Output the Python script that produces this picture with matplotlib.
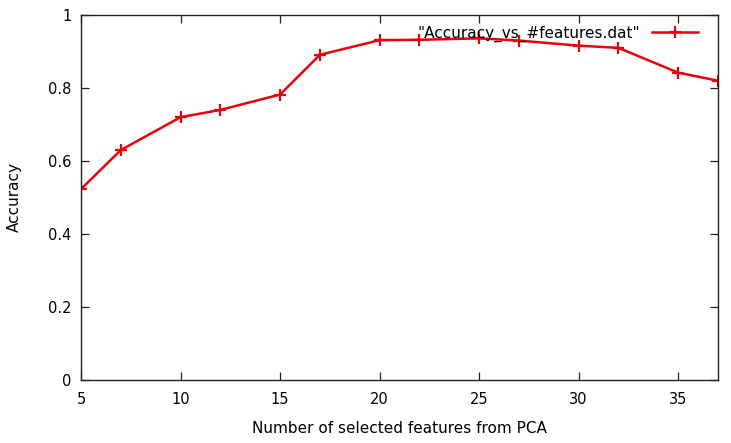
import matplotlib; matplotlib.use("Agg")
import matplotlib.pyplot as plt

# number of PCA features vs accuracy
n_features = [5, 7, 10, 12, 15, 17, 20, 22, 25, 27, 30, 32, 35, 37]
accuracy = [0.523, 0.630, 0.720, 0.740, 0.782, 0.891, 0.931, 0.932, 0.936, 0.930, 0.916, 0.910, 0.842, 0.820]
xticks = [5, 10, 15, 20, 25, 30, 35]
yticks = [0, 0.2, 0.4, 0.6, 0.8, 1]
ytick_labels = ["0", "0.2", "0.4", "0.6", "0.8", "1"]

plt.rcParams["font.family"] = "DejaVu Sans"
fig = plt.figure(figsize=(7.31, 4.43), dpi=100)
ax = fig.add_axes([81/731, 63/443, 637/731, 365/443])

ax.plot(n_features, accuracy, color="#e8000b", lw=1.8, marker="+", ms=9, mew=1.6,
        label='"Accuracy_vs_#features.dat"')

ax.set_xlim(5, 37)
ax.set_ylim(0, 1)
ax.set_xticks(xticks)
ax.set_yticks(yticks)
ax.set_yticklabels(ytick_labels)
ax.tick_params(direction="in", length=6, width=0.9, top=True, right=True,
               labelsize=10.5, pad=7, colors="#222222", labelcolor="black")
ax.tick_params(axis="x", pad=9)
for s in ax.spines.values():
    s.set_linewidth(1.0); s.set_color("#222222")

ax.set_xlabel("Number of selected features from PCA", fontsize=11, labelpad=10)
ax.set_ylabel("Accuracy", fontsize=11, labelpad=19)

leg = ax.legend(loc="upper right", frameon=False, fontsize=11, markerfirst=False,
                handlelength=3.0, borderaxespad=0.3, handletextpad=0.8,
                bbox_to_anchor=(0.985, 1.0))

fig.savefig("out.png", dpi=100)
